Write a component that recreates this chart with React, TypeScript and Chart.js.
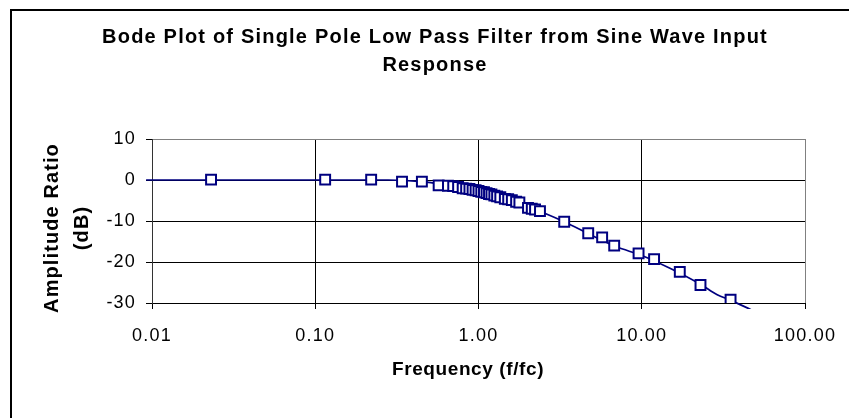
import React, { useEffect, useRef } from 'react';
import { Chart, registerables } from 'chart.js';

Chart.register(...registerables);

// ---- text ----
const chartTitle = ['Bode Plot of Single Pole Low Pass Filter from Sine Wave Input', 'Response'];
const xAxisTitle = 'Frequency (f/fc)';
const yAxisTitle = ['Amplitude Ratio', '(dB)'];

// ---- ticks ----
const xTickValues = [0.01, 0.1, 1, 10, 100];
const yMin = -30;
const yMax = 10;
const yStep = 10;

// ---- measured points (markers) ----
const measuredFreq = [
  0.023, 0.115, 0.22, 0.34, 0.45, 0.57, 0.65, 0.7, 0.75, 0.8, 0.84, 0.88, 0.92, 0.96, 1.0, 1.04,
  1.08, 1.12, 1.16, 1.2, 1.25, 1.3, 1.36, 1.45, 1.52, 1.6, 1.7, 1.78, 2.01, 2.12, 2.22, 2.38, 3.35,
  4.7, 5.72, 6.78, 9.56, 11.9, 17.1, 22.9, 35.0,
];
const measuredDb = [
  0.1, 0.1, 0.1, -0.4, -0.4, -1.3, -1.4, -1.5, -1.7, -2.0, -2.1, -2.2, -2.4, -2.5, -2.7, -2.9,
  -3.0, -3.2, -3.4, -3.5, -3.8, -4.0, -4.2, -4.6, -4.7, -4.9, -5.3, -5.5, -6.8, -7.0, -7.2, -7.6,
  -10.2, -13.0, -14.0, -16.0, -17.9, -19.3, -22.4, -25.6, -29.2,
];

// ---- smooth curve ----
const curveFreq = [0.0092, 0.1, 0.28, 0.45, 0.65, 0.85, 1.0, 1.3, 1.6, 2.0, 2.5, 3.35, 5.0, 7.0, 10, 15, 23, 29, 35, 47];
const curveDb = [0, 0, 0, -0.4, -1.3, -2.1, -2.7, -4.0, -4.9, -6.5, -8.0, -10.2, -13.6, -16.3, -18.4, -21.6, -25.5, -28.0, -29.3, -31.7];

const NAVY = '#000080';
const FONT = '"Liberation Sans", Arial, sans-serif';

const decorPlugin = {
  id: 'decor',
  beforeDraw(chart: any) {
    const ctx = chart.ctx;
    ctx.save();
    ctx.fillStyle = '#ffffff';
    ctx.fillRect(0, 0, chart.width, chart.height);
    ctx.strokeStyle = '#000000';
    ctx.lineWidth = 2;
    ctx.beginPath();
    ctx.moveTo(11, chart.height);
    ctx.lineTo(11, 10);
    ctx.lineTo(chart.width, 10);
    ctx.stroke();
    ctx.restore();
    ctx.letterSpacing = '1.2px';
  },
  afterDraw(chart: any) {
    const ctx = chart.ctx;
    ctx.save();
    ctx.fillStyle = '#000000';
    ctx.textAlign = 'center';
    ctx.textBaseline = 'middle';
    ctx.font = `bold 20px ${FONT}`;
    ctx.letterSpacing = '1.2px';
    chartTitle.forEach((t, i) => ctx.fillText(t, 435, 37 + i * 28));
    ctx.font = `bold 19px ${FONT}`;
    ctx.letterSpacing = '0.6px';
    ctx.fillText(xAxisTitle, 468, 370);
    ctx.translate(52, 228);
    ctx.rotate(-Math.PI / 2);
    ctx.letterSpacing = '1.1px';
    ctx.font = `bold 20px ${FONT}`;
    yAxisTitle.forEach((t, i) => ctx.fillText(t, 0, i * 30));
    ctx.restore();
    ctx.letterSpacing = '0px';
  },
};

export default function App() {
  const canvasRef = useRef<HTMLCanvasElement | null>(null);

  useEffect(() => {
    const canvas = canvasRef.current;
    if (!canvas) return;
    const chart = new Chart(canvas, {
      type: 'scatter',
      data: {
        datasets: [
          {
            label: 'measured',
            data: measuredFreq.map((f, i) => ({ x: f, y: measuredDb[i] })),
            showLine: false,
            pointStyle: 'rect',
            pointRadius: 7,
            pointBorderWidth: 2,
            pointBorderColor: NAVY,
            pointBackgroundColor: '#ffffff',
            borderColor: NAVY,
            backgroundColor: '#ffffff',
            order: 0,
          },
          {
            label: 'curve',
            data: curveFreq.map((f, i) => ({ x: f, y: curveDb[i] })),
            showLine: true,
            pointRadius: 0,
            borderColor: NAVY,
            borderWidth: 1.7,
            cubicInterpolationMode: 'monotone',
            clip: { left: 6, top: 0, right: 0, bottom: 6 },
            order: 1,
          },
        ] as any,
      },
      options: {
        responsive: false,
        animation: false,
        devicePixelRatio: 1,
        layout: { padding: { left: 0, right: 44, top: 139, bottom: 15 } },
        plugins: {
          legend: { display: false },
          title: { display: false },
          tooltip: { enabled: false },
        },
        scales: {
          x: {
            type: 'logarithmic',
            position: 'bottom',
            min: 0.01,
            max: 100,
            afterBuildTicks: (scale: any) => {
              scale.ticks = xTickValues.map((v) => ({ value: v }));
            },
            afterFit: (scale: any) => {
              scale.height = 100;
            },
            ticks: {
              autoSkip: false,
              maxRotation: 0,
              padding: 16,
              color: '#000000',
              font: { family: FONT, size: 18 },
              callback: (v: any) => Number(v).toFixed(2),
            },
            grid: {
              color: (c: any) =>
                c.tick && c.tick.value === 100 ? '#808080' : c.tick && c.tick.value === 0.01 ? '#333333' : '#000000',
              tickColor: '#000000',
              tickLength: 6,
              lineWidth: 1,
            },
            border: { color: '#000000', width: 1 },
          },
          y: {
            type: 'linear',
            min: yMin,
            max: yMax,
            afterFit: (scale: any) => {
              scale.width = 152;
            },
            ticks: {
              stepSize: yStep,
              padding: 10,
              color: '#000000',
              font: { family: FONT, size: 18 },
            },
            grid: {
              color: (c: any) => (c.tick && c.tick.value === yMax ? '#808080' : '#000000'),
              tickColor: '#000000',
              tickLength: 6,
              lineWidth: 1,
            },
            border: { color: '#333333', width: 1 },
          },
        },
      } as any,
      plugins: [decorPlugin],
    });
    return () => chart.destroy();
  }, []);

  return (
    <div style={{ position: 'absolute', left: 0, top: 0, width: 849, height: 418, background: '#fff' }}>
      <canvas ref={canvasRef} width={849} height={418} style={{ display: 'block' }} />
    </div>
  );
}
